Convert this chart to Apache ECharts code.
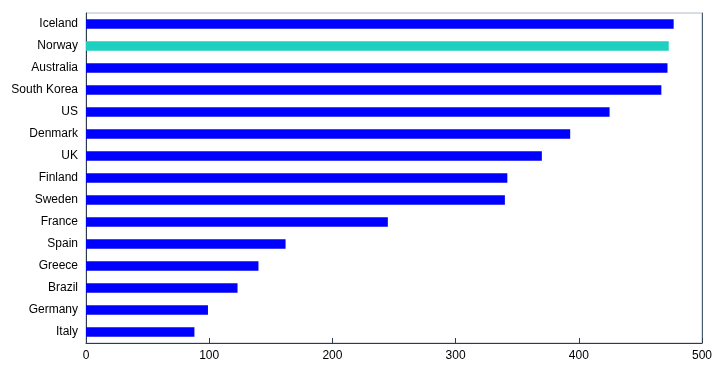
<!DOCTYPE html>
<html>
<head>
<meta charset="utf-8">
<script src="https://cdn.jsdelivr.net/npm/echarts@6/dist/echarts.min.js"></script>
<style>
html, body { margin: 0; padding: 0; background: #fff; }
#chart { width: 722px; height: 378px; }
</style>
</head>
<body>
<div id="chart"></div>
<script>
// categories, top to bottom
var countries = ['Iceland', 'Norway', 'Australia', 'South Korea', 'US', 'Denmark', 'UK',
    'Finland', 'Sweden', 'France', 'Spain', 'Greece', 'Brazil', 'Germany', 'Italy'];
var values = [477, 473, 472, 467, 425, 393, 370, 342, 340, 245, 162, 140, 123, 99, 88];
var highlight = 'Norway';

var myChart = echarts.init(document.getElementById('chart'));

var option = {
    animation: false,
    grid: {
        left: 86,
        right: 20,
        top: 13,
        bottom: 35,
        show: true,
        borderColor: '#b4bac2',
        borderWidth: 1
    },
    xAxis: {
        type: 'value',
        min: 0,
        max: 500,
        interval: 100,
        splitLine: { show: false },
        axisLine: { show: true, lineStyle: { color: '#2e3b4c' } },
        axisTick: { show: true, inside: true, length: 5, lineStyle: { color: '#2e3b4c' } },
        axisLabel: { color: '#000', fontFamily: 'Liberation Sans', fontSize: 12, margin: 7 }
    },
    yAxis: [{
        type: 'category',
        inverse: true,
        data: countries,
        axisLine: { show: true, lineStyle: { color: '#2e3b4c' } },
        axisTick: { show: false },
        axisLabel: { color: '#000', fontFamily: 'Liberation Sans', fontSize: 12, margin: 8 }
    }, {
        // right frame line
        type: 'category',
        position: 'right',
        inverse: true,
        data: countries,
        axisLine: { show: true, lineStyle: { color: '#4a5d70' } },
        axisTick: { show: false },
        axisLabel: { show: false }
    }],
    series: [{
        type: 'bar',
        barWidth: '43%',
        data: values.map(function (v, i) {
            return {
                value: v,
                itemStyle: { color: countries[i] === highlight ? '#1fcfc0' : '#0000ff' }
            };
        })
    }]
};

myChart.setOption(option);
</script>
</body>
</html>
